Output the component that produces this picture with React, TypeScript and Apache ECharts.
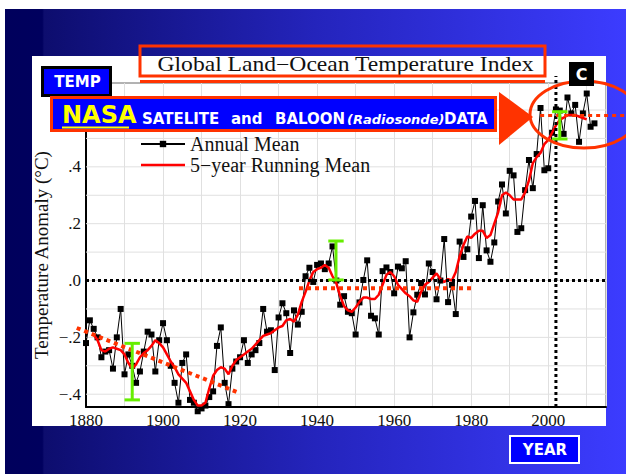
import React, { useEffect, useRef } from 'react';
import * as echarts from 'echarts';

// ---------------- data ----------------
const START_YEAR = 1880;
const ANNUAL_MEAN = [
  // 1880-1889
  -0.22, -0.14, -0.17, -0.2, -0.27, -0.25, -0.245, -0.31, -0.2, -0.1,
  // 1890-1899
  -0.33, -0.26, -0.3, -0.36, -0.32, -0.25, -0.18, -0.19, -0.32, -0.21,
  // 1900-1909
  -0.15, -0.21, -0.3, -0.36, -0.43, -0.29, -0.26, -0.42, -0.43, -0.46,
  // 1910-1919
  -0.45, -0.44, -0.41, -0.39, -0.23, -0.165, -0.36, -0.435, -0.31, -0.285,
  // 1920-1929
  -0.27, -0.21, -0.29, -0.26, -0.245, -0.22, -0.1, -0.18, -0.175, -0.315,
  // 1930-1939
  -0.13, -0.08, -0.115, -0.255, -0.105, -0.155, -0.11, 0.015, 0.045, -0.005,
  // 1940-1949
  0.055, 0.06, 0.04, 0.06, 0.12, 0.0, -0.085, -0.055, -0.11, -0.115,
  // 1950-1959
  -0.19, -0.077, 0.002, 0.071, -0.124, -0.133, -0.19, 0.033, 0.046, 0.03,
  // 1960-1969
  -0.045, 0.049, 0.043, 0.068, -0.2, -0.112, -0.05, -0.009, -0.049, 0.06,
  // 1970-1979
  0.03, -0.066, 0.0, 0.146, -0.076, -0.015, -0.118, 0.137, 0.083, 0.11,
  // 1980-1989
  0.225, 0.28, 0.079, 0.265, 0.106, 0.066, 0.134, 0.278, 0.338, 0.236,
  // 1990-1999
  0.386, 0.37, 0.171, 0.184, 0.318, 0.424, 0.325, 0.445, 0.607, 0.388,
  // 2000-2009
  0.395, 0.52, 0.602, 0.598, 0.516, 0.644, 0.588, 0.618, 0.488, 0.588,
  // 2010-2012
  0.658, 0.541, 0.553,
];

const RUNNING_START = 1882;
const RUNNING_MEAN = [
  // 1882-1889
  -0.19, -0.21, -0.245, -0.25, -0.24, -0.235, -0.24, -0.245,
  // 1890-1899
  -0.26, -0.29, -0.31, -0.295, -0.27, -0.255, -0.245, -0.23, -0.21, -0.22,
  // 1900-1909
  -0.235, -0.26, -0.285, -0.305, -0.33, -0.345, -0.36, -0.39, -0.42, -0.44,
  // 1910-1919
  -0.44, -0.43, -0.38, -0.335, -0.315, -0.305, -0.31, -0.33, -0.3, -0.28,
  // 1920-1929
  -0.27, -0.26, -0.25, -0.24, -0.225, -0.21, -0.195, -0.19, -0.185, -0.175,
  // 1930-1939
  -0.165, -0.16, -0.14, -0.135, -0.145, -0.12, -0.075, -0.04, 0.0, 0.03,
  // 1940-1949
  0.04, 0.045, 0.055, 0.045, 0.015, -0.01, -0.055, -0.09, -0.105, -0.11,
  // 1950-1959
  -0.095, -0.075, -0.06, -0.06, -0.065, -0.065, -0.05, -0.015, 0.02, 0.03,
  // 1960-1969
  0.015, -0.015, -0.03, -0.045, -0.055, -0.07, -0.075, -0.04, -0.015, -0.005,
  // 1970-1979
  0.01, 0.025, 0.005, -0.005, 0.005, 0.0, 0.03, 0.085, 0.125, 0.155,
  // 1980-1989
  0.15, 0.165, 0.175, 0.175, 0.15, 0.16, 0.2, 0.24, 0.3, 0.31,
  // 1990-1999
  0.3, 0.285, 0.285, 0.285, 0.31, 0.352, 0.413, 0.434, 0.449, 0.48,
  // 2000-2010
  0.495, 0.52, 0.546, 0.565, 0.573, 0.582, 0.582, 0.582, 0.577, 0.572, 0.567,
];

const X_MIN = 1880;
const X_MAX = 2015;
const Y_MIN = -0.445;
const Y_MAX = 0.695;
const X_LABEL_YEARS = [1880, 1900, 1920, 1940, 1960, 1980, 2000];
const Y_LABEL_VALUES = [-0.4, -0.2, 0, 0.2, 0.4];
const Y_GRID_VALUES = [-0.4, -0.3, -0.2, -0.1, 0, 0.1, 0.2, 0.3, 0.4, 0.5, 0.6];

// annotations (data coordinates)
const ERROR_BARS = [
  [1892, -0.42, -0.221],
  [1944.9, 0.002, 0.139],
  [2003, 0.498, 0.594],
];
const RED_TRENDS = [
  [1877.6, -0.167, 1919.7, -0.395, 4],
  [1935.3, -0.027, 1980.2, -0.027, 4],
  [1997.9, 0.581, 2020.5, 0.581, 3],
];
const BLACK_REFS = [
  [1880, 0, 2015, 0],
  [2002, -0.445, 2002, 0.72],
];

const SERIF = '"Liberation Serif", "Times New Roman", serif';
const SANS = '"DejaVu Sans", Verdana, sans-serif';
const RED = '#ff3300';
const RUNNING_NAME = '5\u2212year Running Mean';

function yLabel(v: number): string {
  const hit = Y_LABEL_VALUES.some((l) => Math.abs(l - v) < 1e-6);
  if (!hit) return '';
  const d = Math.round(Math.abs(v) * 10);
  return (v < -1e-9 ? '\u2212' : '') + '.' + d;
}

function segRender(color: string, dash: number[] | null, defWidth: number) {
  return (params: any, api: any) => {
    const p1 = api.coord([api.value(0), api.value(1)]);
    const p2 = api.coord([api.value(2), api.value(3)]);
    const w = api.value(4);
    return {
      type: 'line',
      shape: { x1: p1[0], y1: p1[1], x2: p2[0], y2: p2[1] },
      style: {
        stroke: color,
        lineWidth: isNaN(w) ? defWidth : w,
        lineDash: dash,
        lineCap: 'butt',
      },
    };
  };
}

function bannerText(text: string, x: number, italic = false, size = 15): any {
  return {
    type: 'text',
    z: 61,
    x,
    y: 119,
    style: {
      text,
      fontFamily: SANS,
      fontWeight: 'bold',
      fontStyle: italic ? 'italic' : 'normal',
      fontSize: size,
      fill: '#fff',
      align: 'left',
      verticalAlign: 'middle',
    },
  };
}

export default function App() {
  const ref = useRef<HTMLDivElement>(null);

  useEffect(() => {
    if (!ref.current) return;
    const chart = echarts.init(ref.current, null, { renderer: 'svg' });

    const annualData = ANNUAL_MEAN.map((v, i) => [START_YEAR + i, v]);
    const runningData = RUNNING_MEAN.map((v, i) => [RUNNING_START + i, v]);

    const bg = new echarts.graphic.LinearGradient(0, 0, 1, 0, [
      { offset: 0, color: '#00005c' },
      { offset: 0.06, color: '#00005e' },
      { offset: 0.063, color: '#0d0d6e' },
      { offset: 0.5, color: '#2424bc' },
      { offset: 1, color: '#3c3cff' },
    ]);

    const option: any = {
      animation: false,
      grid: {
        left: 86,
        top: 83,
        width: 520,
        height: 324,
        show: true,
        borderColor: '#666',
        borderWidth: 1,
        backgroundColor: 'transparent',
      },
      legend: {
        data: [
          { name: 'Annual Mean' },
          { name: RUNNING_NAME, icon: 'path://M0,0M0,8M0,2.75L44,2.75L44,5.25L0,5.25Z' },
        ],
        orient: 'vertical',
        left: 140,
        top: 134,
        padding: 0,
        itemGap: 1,
        itemWidth: 44,
        itemHeight: 8,
        selectedMode: false,
        textStyle: { fontFamily: SERIF, fontSize: 20, color: '#111', lineHeight: 20 },
      },
      xAxis: {
        type: 'value',
        min: X_MIN,
        max: X_MAX,
        interval: 10,
        axisLine: { show: true, onZero: false, lineStyle: { color: '#000', width: 2 } },
        axisTick: { show: false },
        splitLine: { show: true, lineStyle: { color: '#e0e0e0', width: 1 } },
        axisLabel: {
          formatter: (v: number) => (X_LABEL_YEARS.includes(Math.round(v)) ? String(Math.round(v)) : ''),
          fontFamily: SERIF,
          fontSize: 17,
          color: '#111',
          margin: 5,
        },
      },
      yAxis: {
        type: 'value',
        min: Y_MIN,
        max: Y_MAX,
        interval: 0.005,
        axisLine: { show: true, onZero: false, lineStyle: { color: '#000', width: 2 } },
        axisTick: { show: false },
        splitLine: { show: false },
        axisLabel: {
          formatter: (v: number) => yLabel(v),
          fontFamily: SERIF,
          fontSize: 17,
          color: '#111',
          margin: 5,
        },
      },
      series: [
        {
          name: 'grid',
          type: 'custom',
          z: 1,
          silent: true,
          clip: false,
          data: Y_GRID_VALUES.map((v) => [X_MIN, v, X_MAX, v]),
          renderItem: segRender('#e0e0e0', null, 1),
        },
        {
          name: 'Annual Mean',
          type: 'line',
          z: 3,
          clip: false,
          data: annualData,
          symbol: 'rect',
          symbolSize: 6,
          lineStyle: { color: '#000', width: 1 },
          itemStyle: { color: '#000' },
          emphasis: { disabled: true },
        },
        {
          name: RUNNING_NAME,
          type: 'line',
          z: 4,
          data: runningData,
          symbol: 'none',
          lineStyle: { color: '#ff0000', width: 2.5 },
          itemStyle: { color: '#ff0000' },
          emphasis: { disabled: true },
        },
        {
          name: 'refs',
          type: 'custom',
          z: 5,
          silent: true,
          clip: false,
          data: BLACK_REFS,
          renderItem: segRender('#000', [3, 3], 3),
        },
        {
          name: 'trends',
          type: 'custom',
          z: 6,
          silent: true,
          clip: false,
          data: RED_TRENDS,
          renderItem: segRender(RED, [4, 4], 4),
        },
        {
          name: 'errorBars',
          type: 'custom',
          z: 7,
          silent: true,
          clip: false,
          data: ERROR_BARS,
          renderItem: (params: any, api: any) => {
            const x = api.value(0);
            const lo = api.coord([x, api.value(1)]);
            const hi = api.coord([x, api.value(2)]);
            const l1 = api.coord([x - 2, api.value(1)]);
            const r1 = api.coord([x + 2, api.value(1)]);
            const l2 = api.coord([x - 2, api.value(2)]);
            const r2 = api.coord([x + 2, api.value(2)]);
            const st = { stroke: '#66ee00', lineWidth: 3 };
            return {
              type: 'group',
              children: [
                { type: 'line', shape: { x1: lo[0], y1: lo[1], x2: hi[0], y2: hi[1] }, style: st },
                { type: 'line', shape: { x1: l1[0], y1: l1[1], x2: r1[0], y2: r1[1] }, style: st },
                { type: 'line', shape: { x1: l2[0], y1: l2[1], x2: r2[0], y2: r2[1] }, style: st },
              ],
            };
          },
        },
      ],
      graphic: [
        { type: 'rect', z: -20, silent: true, shape: { x: 5, y: 9, width: 621, height: 465 }, style: { fill: bg } },
        { type: 'rect', z: -19, silent: true, shape: { x: 32, y: 56, width: 574, height: 370 }, style: { fill: '#ffffff' } },
        {
          type: 'text', z: 50, x: 41, y: 255, rotation: Math.PI / 2,
          style: { text: 'Temperature Anomaly (\u00b0C)', fontFamily: SERIF, fontSize: 19, fill: '#111', align: 'center', verticalAlign: 'middle' },
        },
        {
          type: 'text', z: 50, x: 345.5, y: 64.5, scaleX: 1.18,
          style: { text: 'Global Land\u2212Ocean Temperature Index', fontFamily: SERIF, fontSize: 20, fill: '#111', align: 'center', verticalAlign: 'middle' },
        },
        { type: 'rect', z: 60, shape: { x: 140, y: 46, width: 405, height: 30 }, style: { fill: 'transparent', stroke: RED, lineWidth: 3 } },
        { type: 'line', z: 60, shape: { x1: 140, y1: 81.5, x2: 545, y2: 81.5 }, style: { stroke: RED, lineWidth: 3 } },
        // TEMP box
        { type: 'rect', z: 60, shape: { x: 42.5, y: 67.5, width: 68, height: 28 }, style: { fill: '#0000ff', stroke: '#000', lineWidth: 3 } },
        { type: 'text', z: 61, x: 77.5, y: 81.5, style: { text: 'TEMP', fontFamily: SANS, fontWeight: 'bold', fontSize: 15, fill: '#fff', align: 'center', verticalAlign: 'middle' } },
        // NASA banner
        { type: 'rect', z: 60, shape: { x: 51.5, y: 97.5, width: 444, height: 33 }, style: { fill: '#0000ff', stroke: RED, lineWidth: 3 } },
        { type: 'text', z: 61, x: 62, y: 115, style: { text: 'NASA', fontFamily: SANS, fontWeight: 'bold', fontSize: 24, fill: '#ffff00', align: 'left', verticalAlign: 'middle' } },
        { type: 'line', z: 61, shape: { x1: 62, y1: 127.5, x2: 129, y2: 127.5 }, style: { stroke: '#ffff00', lineWidth: 2 } },
        bannerText('SATELITE', 142),
        bannerText('and', 231),
        bannerText('BALOON', 275),
        bannerText('(Radiosonde)', 347, true, 13),
        bannerText('DATA', 444),
        // arrow + ellipse
        { type: 'polygon', z: 60, shape: { points: [[499, 92], [499, 145], [533, 117]] }, style: { fill: RED } },
        { type: 'ellipse', z: 60, shape: { cx: 584, cy: 114.5, rx: 54, ry: 33.5 }, style: { fill: 'transparent', stroke: RED, lineWidth: 3 } },
        // C box
        { type: 'rect', z: 60, shape: { x: 569, y: 62, width: 25, height: 24 }, style: { fill: '#000' } },
        { type: 'text', z: 61, x: 581.5, y: 74.5, style: { text: 'C', fontFamily: SANS, fontWeight: 'bold', fontSize: 16, fill: '#fff', align: 'center', verticalAlign: 'middle' } },
        // YEAR box
        { type: 'rect', z: 60, shape: { x: 510, y: 436, width: 69, height: 27 }, style: { fill: '#0000ff', stroke: '#fff', lineWidth: 2 } },
        { type: 'text', z: 61, x: 545, y: 450, style: { text: 'YEAR', fontFamily: SANS, fontWeight: 'bold', fontSize: 15, fill: '#fff', align: 'center', verticalAlign: 'middle' } },
      ],
    };

    chart.setOption(option);
    return () => chart.dispose();
  }, []);

  return (
    <div
      ref={ref}
      style={{ position: 'fixed', left: 0, top: 0, width: 626, height: 474, background: '#ffffff' }}
    />
  );
}
